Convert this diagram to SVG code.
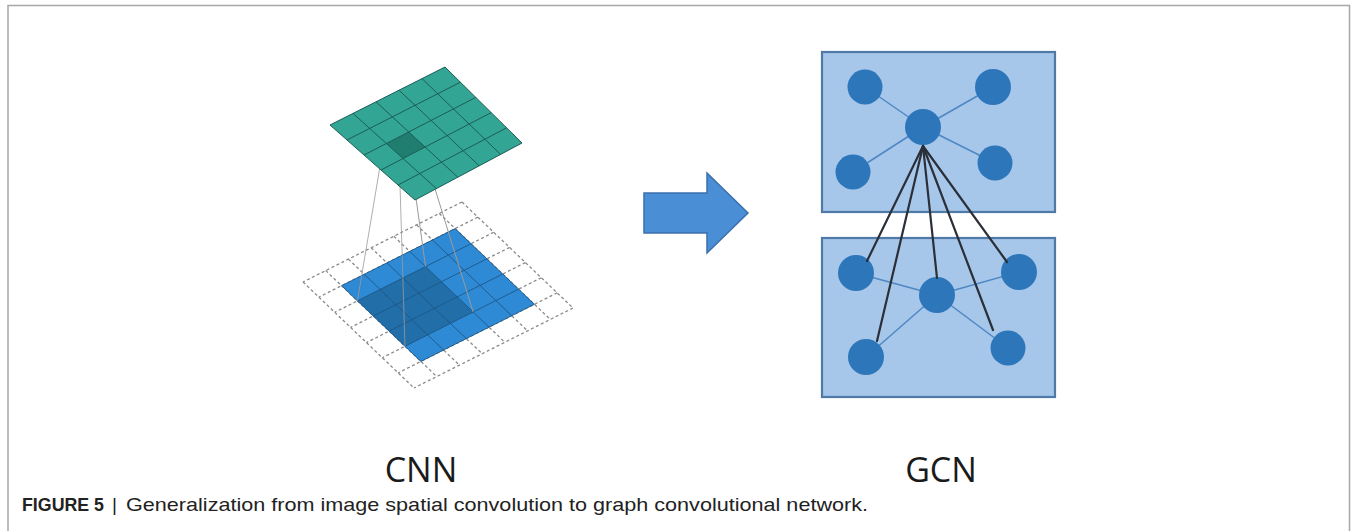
<svg xmlns="http://www.w3.org/2000/svg" width="1356" height="531" viewBox="0 0 1356 531">
<style>
.dash{stroke:#8a8a8a;stroke-width:1.3;stroke-dasharray:3 2.5;fill:none}
.bgrid{stroke:#1d5784;stroke-width:0.9;fill:none}
.tgrid{stroke:#1b5e54;stroke-width:1;fill:none}
.proj{stroke:#9a9a9a;stroke-width:1;fill:none}
.box{fill:#a6c6ea;stroke:#4f79a6;stroke-width:2.2}
.node{fill:#2e76ba}
.ledge{stroke:#4e88c4;stroke-width:1.5}
.bedge{stroke:#2a2f38;stroke-width:2.2;stroke-linecap:round}
.lbl{font-family:"Open Sans","Noto Sans",sans-serif;font-size:34px;fill:#1a1a1a;text-anchor:middle}
.cap{font-family:"Liberation Sans",Arial,sans-serif;font-size:19px;fill:#222}
</style>
<path d="M8,531 V5.5 H1349.5 V531" fill="none" stroke="#a8a8a8" stroke-width="1.5"/>

<g id="cnn-input">
<g class="dash">
<line x1="462" y1="202" x2="303" y2="282"/>
<line x1="477.86" y1="217.14" x2="318.86" y2="297.14"/>
<line x1="493.71" y1="232.29" x2="334.71" y2="312.29"/>
<line x1="509.57" y1="247.43" x2="350.57" y2="327.43"/>
<line x1="525.43" y1="262.57" x2="366.43" y2="342.57"/>
<line x1="541.29" y1="277.71" x2="382.29" y2="357.71"/>
<line x1="557.14" y1="292.86" x2="398.14" y2="372.86"/>
<line x1="573" y1="308" x2="414" y2="388"/>
<line x1="462" y1="202" x2="573" y2="308"/>
<line x1="439.29" y1="213.43" x2="550.29" y2="319.43"/>
<line x1="416.57" y1="224.86" x2="527.57" y2="330.86"/>
<line x1="393.86" y1="236.29" x2="504.86" y2="342.29"/>
<line x1="371.14" y1="247.71" x2="482.14" y2="353.71"/>
<line x1="348.43" y1="259.14" x2="459.43" y2="365.14"/>
<line x1="325.71" y1="270.57" x2="436.71" y2="376.57"/>
<line x1="303" y1="282" x2="414" y2="388"/>
</g>
<polygon points="455.14,228.57 534.43,304.29 420.86,361.43 341.57,285.71" fill="#2f8ad6"/>
<polygon points="425.57,266.57 473.14,312 405,346.29 357.43,300.86" fill="#226ea9"/>
<g class="bgrid">
<polygon points="455.14,228.57 534.43,304.29 420.86,361.43 341.57,285.71"/>
<line x1="471" y1="243.71" x2="357.43" y2="300.86"/>
<line x1="486.86" y1="258.86" x2="373.29" y2="316"/>
<line x1="502.71" y1="274" x2="389.14" y2="331.14"/>
<line x1="518.57" y1="289.14" x2="405" y2="346.29"/>
<line x1="432.43" y1="240" x2="511.71" y2="315.71"/>
<line x1="409.71" y1="251.43" x2="489" y2="327.14"/>
<line x1="387" y1="262.86" x2="466.29" y2="338.57"/>
<line x1="364.29" y1="274.29" x2="443.57" y2="350"/>
</g>
</g>

<g id="connectors">
<g class="proj">
<line x1="406.8" y1="132.2" x2="425.57" y2="266.57"/>
<line x1="422.2" y1="147.4" x2="473.14" y2="312"/>
<line x1="383.8" y1="143.8" x2="357.43" y2="300.86" stroke-opacity="0.8"/>
<line x1="399.2" y1="159" x2="405" y2="346.29" stroke-opacity="0.8"/>
</g>
</g>

<g id="cnn-output">
<polygon points="445,67 522,143 415,200 330,125" fill="#33a595"/>
<polygon points="408.7,132 425.1,147 403,158.5 386.4,143.5" fill="#1f7e70"/>
<g class="tgrid">
<polygon points="445,67 522,143 415,200 330,125"/>
<line x1="460.4" y1="82.2" x2="347" y2="140"/>
<line x1="475.8" y1="97.4" x2="364" y2="155"/>
<line x1="491.2" y1="112.6" x2="381" y2="170"/>
<line x1="506.6" y1="127.8" x2="398" y2="185"/>
<line x1="422" y1="78.6" x2="500.6" y2="154.4"/>
<line x1="399" y1="90.2" x2="479.2" y2="165.8"/>
<line x1="376" y1="101.8" x2="457.8" y2="177.2"/>
<line x1="353" y1="113.4" x2="436.4" y2="188.6"/>
</g>
</g>

<g id="arrow">
<polygon points="644,193 707,193 707,173 748,213 707,253 707,233 644,233" fill="#4a8ed6" stroke="#3b70ad" stroke-width="1.5"/>
</g>

<g id="gcn-top">
<rect class="box" x="822" y="52" width="233" height="160"/>
<g class="ledge">
<line x1="923" y1="127" x2="865" y2="87"/>
<line x1="923" y1="127" x2="993" y2="87"/>
<line x1="923" y1="127" x2="853" y2="172"/>
<line x1="923" y1="127" x2="995" y2="163"/>
</g>
<circle class="node" cx="865" cy="87" r="17.5"/>
<circle class="node" cx="993" cy="87" r="18"/>
<circle class="node" cx="923" cy="127" r="18"/>
<circle class="node" cx="853" cy="172" r="17.5"/>
<circle class="node" cx="995" cy="163" r="17.5"/>
</g>

<g id="gcn-bottom">
<rect class="box" x="822" y="238" width="233" height="159"/>
<g class="ledge">
<line x1="937" y1="295" x2="856" y2="273"/>
<line x1="937" y1="295" x2="1019" y2="272"/>
<line x1="937" y1="295" x2="866" y2="357"/>
<line x1="937" y1="295" x2="1008" y2="348"/>
</g>
<circle class="node" cx="856" cy="273" r="18"/>
<circle class="node" cx="1019" cy="272" r="18"/>
<circle class="node" cx="937" cy="295" r="18"/>
<circle class="node" cx="866" cy="357" r="18"/>
<circle class="node" cx="1008" cy="348" r="17.5"/>
</g>

<g id="gcn-connectors" class="bedge">
<line x1="923" y1="146" x2="867" y2="261"/>
<line x1="923" y1="146" x2="877" y2="341"/>
<line x1="923" y1="146" x2="937" y2="278"/>
<line x1="923" y1="146" x2="993" y2="330"/>
<line x1="923" y1="146" x2="1007" y2="262"/>
</g>

<g id="labels">
<text class="lbl" x="421" y="482">CNN</text>
<text class="lbl" x="941" y="482">GCN</text>
</g>
<g id="caption">
<text class="cap" x="22" y="511" font-weight="bold" textLength="82" lengthAdjust="spacingAndGlyphs">FIGURE 5</text>
<text class="cap" x="112" y="511" fill="#888">|</text>
<text class="cap" x="126" y="511" textLength="742" lengthAdjust="spacingAndGlyphs">Generalization from image spatial convolution to graph convolutional network.</text>
</g>
</svg>
